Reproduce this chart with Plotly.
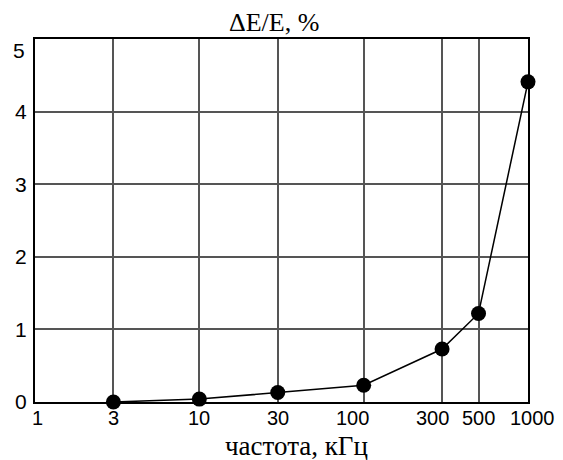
import math
import plotly.graph_objects as go

# ---- data ----
freq = [3, 10, 30, 100, 300, 500, 1000]
dE = [0.0, 0.04, 0.13, 0.23, 0.73, 1.22, 4.41]

x_tickvals = [1, 3, 10, 30, 100, 300, 500, 1000]
x_ticktext = ["1", "3", "10", "30", "100", "300", "500", "1000"]
y_tickvals = [0, 1, 2, 3, 4]
y_ticktext = ["0", "1", "2", "3", "4"]
y_top_label = "5"
title_text = "ΔE/E, %"
xtitle_text = "частота, кГц"

# ---- layout (page has an 8px body margin, compensate) ----
OFF = 8
W, H = 563 - OFF, 460 - OFF
L, T = 35 - OFF, 39 - OFF
PW, PH = 493.5, 363
R, B = W - L - PW, H - T - PH

label_xshift = {1: 2, 100: -11, 300: -10, 1000: 4}

tick_font = dict(family="Liberation Sans, Arial, sans-serif", size=21, color="black")
xtick_font = dict(family="Liberation Sans, Arial, sans-serif", size=20, color="black")
title_font = dict(family="Liberation Serif, Times New Roman, serif", size=26, color="black")
xtitle_font = dict(family="Liberation Serif, Times New Roman, serif", size=27, color="black")

fig = go.Figure()
fig.add_trace(go.Scatter(
    x=freq, y=dE, mode="lines+markers",
    line=dict(color="black", width=1.5),
    marker=dict(color="black", size=15),
    showlegend=False, cliponaxis=False,
))

annotations = []
for v, t in zip(x_tickvals, x_ticktext):
    annotations.append(dict(
        text=t, x=math.log10(v), xref="x", y=0, yref="paper",
        xanchor="center", yanchor="middle", yshift=-16,
        xshift=label_xshift.get(v, 0), showarrow=False, font=xtick_font,
    ))
annotations += [
    dict(text=y_top_label, x=0, xref="paper", xanchor="right", xshift=-8,
         y=4.84, yref="y", yanchor="middle", showarrow=False, font=tick_font),
    dict(text=title_text, x=(274 - 35) / PW, xref="paper", y=1, yref="paper",
         yanchor="bottom", yshift=0, showarrow=False, font=title_font),
    dict(text=xtitle_text, x=(297 - 35) / PW, xref="paper", y=0, yref="paper",
         yanchor="bottom", yshift=-61, showarrow=False, font=xtitle_font),
]

fig.update_layout(
    width=W, height=H,
    margin=dict(l=L, r=R, t=T, b=B, autoexpand=False),
    paper_bgcolor="white", plot_bgcolor="white",
    xaxis=dict(
        type="log", range=[0, 3],
        tickvals=x_tickvals, showticklabels=False,
        showgrid=True, gridcolor="#555555", gridwidth=1.5,
        showline=True, linecolor="black", linewidth=2, mirror=True,
        ticks="", zeroline=False, fixedrange=True, automargin=False,
    ),
    yaxis=dict(
        range=[0, 5],
        tickvals=y_tickvals, ticktext=y_ticktext,
        showgrid=True, gridcolor="#555555", gridwidth=1.5,
        showline=True, linecolor="black", linewidth=2, mirror=True,
        ticks="", tickfont=tick_font, ticklabelstandoff=2,
        zeroline=False, fixedrange=True, automargin=False,
    ),
    annotations=annotations,
)

fig.write_html("out.html")
